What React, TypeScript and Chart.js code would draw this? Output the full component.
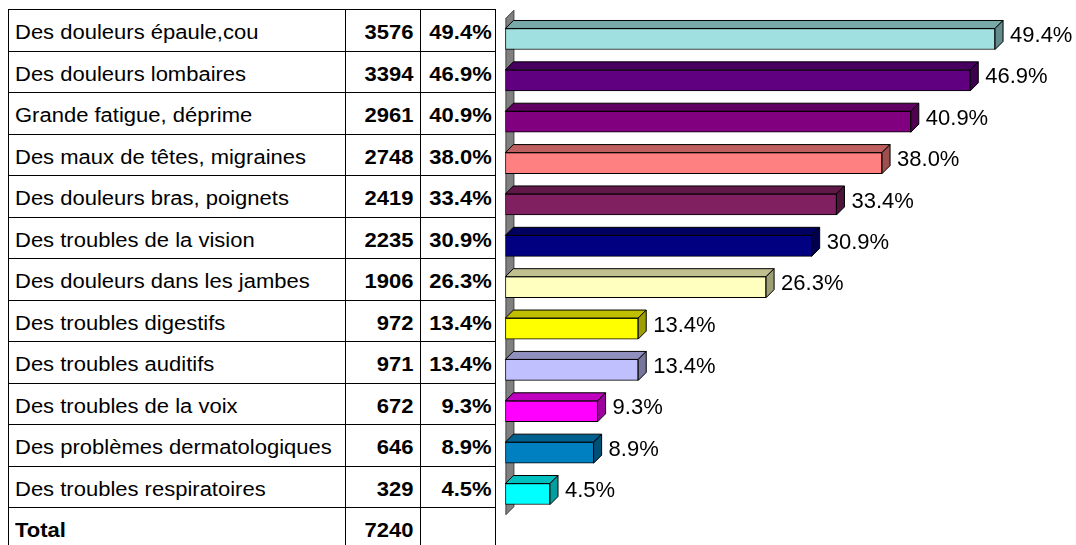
import React, { useEffect, useRef } from 'react';
import { Chart, registerables } from 'chart.js';

Chart.register(...registerables);

const categories = [
  'Des douleurs épaule,cou',
  'Des douleurs lombaires',
  'Grande fatigue, déprime',
  'Des maux de têtes, migraines',
  'Des douleurs bras, poignets',
  'Des troubles de la vision',
  'Des douleurs dans les jambes',
  'Des troubles digestifs',
  'Des troubles auditifs',
  'Des troubles de la voix',
  'Des problèmes dermatologiques',
  'Des troubles respiratoires',
];
const counts = [3576, 3394, 2961, 2748, 2419, 2235, 1906, 972, 971, 672, 646, 329];
const percents = [49.4, 46.9, 40.9, 38.0, 33.4, 30.9, 26.3, 13.4, 13.4, 9.3, 8.9, 4.5];
const totalLabel = 'Total';
const totalCount = 7240;
const barColors = [
  '#A0E0E0', '#600080', '#800080', '#FF8080', '#802060', '#000080',
  '#FFFFC0', '#FFFF00', '#C0C0FF', '#FF00FF', '#0080C0', '#00FFFF',
];

const DEPTH = 8;
const FONT = '"Liberation Sans", Arial, Helvetica, sans-serif';

function shade(hex: string, f: number): string {
  const n = parseInt(hex.slice(1), 16);
  const r = Math.round(((n >> 16) & 255) * f);
  const g = Math.round(((n >> 8) & 255) * f);
  const b = Math.round((n & 255) * f);
  return `rgb(${r},${g},${b})`;
}

const bar3d = {
  id: 'bar3d',
  beforeDatasetsDraw(chart: any) {
    const { ctx, chartArea } = chart;
    const { left, top, bottom } = chartArea;
    ctx.save();
    ctx.beginPath();
    ctx.moveTo(left + 0.5, top);
    ctx.lineTo(left + 0.5 + DEPTH, top - DEPTH);
    ctx.lineTo(left + 0.5 + DEPTH, bottom - DEPTH);
    ctx.lineTo(left + 0.5, bottom);
    ctx.closePath();
    ctx.fillStyle = '#808080';
    ctx.fill();
    ctx.strokeStyle = '#404040';
    ctx.lineWidth = 1;
    ctx.stroke();
    ctx.restore();
  },
  afterDatasetsDraw(chart: any) {
    const { ctx } = chart;
    const meta = chart.getDatasetMeta(0);
    ctx.save();
    ctx.lineWidth = 1;
    ctx.strokeStyle = '#000000';
    meta.data.forEach((el: any, i: number) => {
      const { x, y, base, height } = el.getProps(['x', 'y', 'base', 'height'], true);
      const y0 = y - height / 2;
      const y1 = y + height / 2;
      const c = barColors[i];
      // top face
      ctx.beginPath();
      ctx.moveTo(base, y0);
      ctx.lineTo(base + DEPTH, y0 - DEPTH);
      ctx.lineTo(x + DEPTH, y0 - DEPTH);
      ctx.lineTo(x, y0);
      ctx.closePath();
      ctx.fillStyle = shade(c, 0.75);
      ctx.fill();
      ctx.stroke();
      // side face
      ctx.beginPath();
      ctx.moveTo(x, y0);
      ctx.lineTo(x + DEPTH, y0 - DEPTH);
      ctx.lineTo(x + DEPTH, y1 - DEPTH);
      ctx.lineTo(x, y1);
      ctx.closePath();
      ctx.fillStyle = shade(c, 0.62);
      ctx.fill();
      ctx.stroke();
      // label
      ctx.fillStyle = '#000000';
      ctx.font = `22px ${FONT}`;
      ctx.textAlign = 'left';
      ctx.textBaseline = 'middle';
      ctx.fillText(percents[i].toFixed(1) + '%', x + DEPTH + 7, y - DEPTH / 2 + 1);
    });
    ctx.restore();
  },
};

const TABLE_TOP = 9;
const ROW_H = 41.5;
const COLS = [8, 345, 420, 495];

function Cell(props: { left: number; width: number; row: number; text: string; bold?: boolean; align: 'left' | 'right' }) {
  const { left, width, row, text, bold, align } = props;
  return (
    <div
      style={{
        position: 'absolute',
        left,
        width,
        top: TABLE_TOP + row * ROW_H + 3,
        height: ROW_H,
        lineHeight: `${ROW_H}px`,
        textAlign: align,
        fontFamily: FONT,
        fontSize: 20,
        fontWeight: bold ? 'bold' : 'normal',
        color: '#000',
        whiteSpace: 'nowrap',
      }}
    >
      <span
        style={{
          display: 'inline-block',
          transform: 'scaleX(1.1)',
          transformOrigin: align === 'left' ? 'left center' : 'right center',
        }}
      >
        {text}
      </span>
    </div>
  );
}

export default function App() {
  const canvasRef = useRef<HTMLCanvasElement>(null);

  useEffect(() => {
    const canvas = canvasRef.current;
    if (!canvas) return;
    const chart = new Chart(canvas, {
      type: 'bar',
      data: {
        labels: categories,
        datasets: [
          {
            data: percents,
            backgroundColor: barColors,
            borderColor: '#000000',
            borderWidth: 1,
            borderSkipped: false,
            barThickness: 21,
          },
        ],
      },
      options: {
        indexAxis: 'y',
        animation: false,
        responsive: false,
        maintainAspectRatio: false,
        layout: { padding: { left: 10.4, right: 75, top: 18.3, bottom: 30.3 } },
        plugins: { legend: { display: false }, tooltip: { enabled: false } },
        scales: {
          x: { display: false, min: 0, max: 50 },
          y: { display: false },
        },
      },
      plugins: [bar3d],
    });
    return () => chart.destroy();
  }, []);

  const rowsCount = categories.length + 1;
  const hLines = [];
  for (let i = 0; i <= rowsCount; i++) {
    hLines.push(
      <div
        key={'h' + i}
        style={{
          position: 'absolute',
          left: COLS[0],
          top: Math.round(TABLE_TOP + i * ROW_H),
          width: COLS[3] - COLS[0] + 1,
          height: 1,
          background: '#000',
        }}
      />
    );
  }
  const vLines = COLS.map((x, i) => (
    <div
      key={'v' + i}
      style={{ position: 'absolute', left: x, top: TABLE_TOP, width: 1, height: 600, background: '#000' }}
    />
  ));

  return (
    <div
      style={{
        position: 'fixed',
        left: 0,
        top: 0,
        width: 1076,
        height: 545,
        overflow: 'hidden',
        background: '#fff',
      }}
    >
      {hLines}
      {vLines}
      {categories.map((c, r) => (
        <React.Fragment key={c}>
          <Cell left={COLS[0] + 7} width={320} row={r} text={c} align="left" />
          <Cell left={COLS[1]} width={COLS[2] - COLS[1] - 7} row={r} text={String(counts[r])} bold align="right" />
          <Cell left={COLS[2]} width={COLS[3] - COLS[2] - 3} row={r} text={percents[r].toFixed(1) + '%'} bold align="right" />
        </React.Fragment>
      ))}
      <Cell left={COLS[0] + 7} width={320} row={categories.length} text={totalLabel} bold align="left" />
      <Cell left={COLS[1]} width={COLS[2] - COLS[1] - 7} row={categories.length} text={String(totalCount)} bold align="right" />
      <canvas
        ref={canvasRef}
        width={581}
        height={545}
        style={{ position: 'absolute', left: 495, top: 0, width: 581, height: 545 }}
      />
    </div>
  );
}
